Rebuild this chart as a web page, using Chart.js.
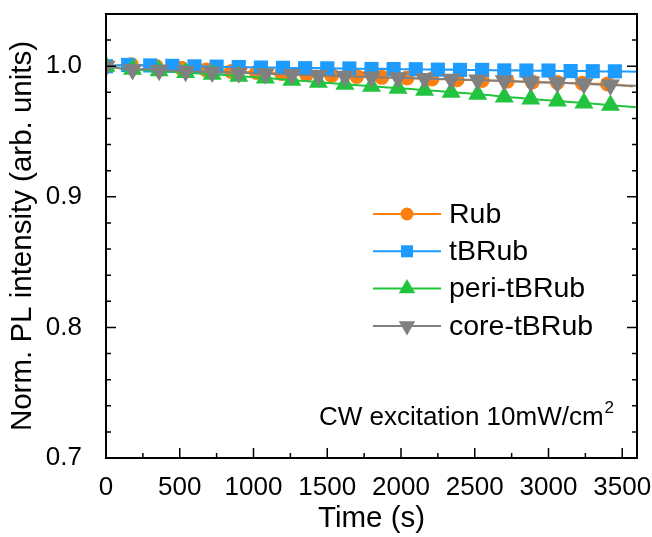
<!DOCTYPE html>
<html lang="en">
<head>
  <title>Norm. PL intensity vs time</title>
  <meta charset="UTF-8">
  <script src="https://cdn.jsdelivr.net/npm/chart.js@4.4.1/dist/chart.umd.min.js"></script>
  <style>
    * {
      margin: 0;
      padding: 0;
      box-sizing: border-box;
    }
    html, body {
      width: 652px;
      height: 537px;
      background-color: white;
      overflow: hidden;
    }
    .ChartBox {
      position: relative;
      width: 652px;
      height: 537px;
    }
  </style>
</head>
<body>
  <div class="ChartBox">
    <canvas id="PLChart"></canvas>
  </div>

  <script>
    // ---------------- data ----------------
    const seriesNames = ['Rub', 'tBRub', 'peri-tBRub', 'core-tBRub'];

    const timeRub = [0,85,170,255,340,425,510,595,680,765,850,935,1020,1105,1190,1275,1360,1445,1530,1615,1700,1785,1870,1955,2040,2125,2210,2295,2380,2465,2550,2635,2720,2805,2890,2975,3060,3145,3230,3315,3400,3485,3570];
    const valRub = [1.000,1.0008,1.0012,1.0005,0.9998,0.9990,0.9985,0.9978,0.9972,0.9968,
                    0.9960,0.9958,0.9952,0.9949,0.9945,0.9940,0.9938,0.9933,0.9930,0.9926,
                    0.9922,0.9920,0.9915,0.9912,0.9910,0.9906,0.9903,0.9900,0.9897,0.9895,
                    0.9891,0.9889,0.9886,0.9884,0.9880,0.9878,0.9875,0.9872,0.9870,0.9866,
                    0.9864,0.9856,0.9844];

    const timeTBRub = [0,75,150,225,300,375,450,525,600,675,750,825,900,975,1050,1125,1200,1275,1350,1425,1500,1575,1650,1725,1800,1875,1950,2025,2100,2175,2250,2325,2400,2475,2550,2625,2700,2775,2850,2925,3000,3075,3150,3225,3300,3375,3450,3525,3600];
    const valTBRub = [1.000,1.0005,1.0010,1.0008,1.0006,1.0004,1.0003,1.0001,0.9999,0.9998,
                      0.9997,0.9995,0.9994,0.9992,0.9990,0.9991,0.9988,0.9987,0.9985,0.9986,
                      0.9984,0.9982,0.9983,0.9981,0.9979,0.9980,0.9978,0.9976,0.9977,0.9975,
                      0.9974,0.9975,0.9972,0.9971,0.9972,0.9970,0.9968,0.9969,0.9967,0.9966,
                      0.9967,0.9964,0.9963,0.9964,0.9962,0.9960,0.9961,0.9959,0.9958];

    const timeCorePeri = [0,90,180,270,360,450,540,630,720,810,900,990,1080,1170,1260,1350,1440,1530,1620,1710,1800,1890,1980,2070,2160,2250,2340,2430,2520,2610,2700,2790,2880,2970,3060,3150,3240,3330,3420,3510,3600];
    const valPeri = [1.0000,0.9984,0.9977,0.9970,0.9965,0.9958,0.9952,0.9945,0.9938,0.9932,
                     0.9924,0.9917,0.9910,0.9902,0.9893,0.9886,0.9878,0.9870,0.9862,0.9855,
                     0.9846,0.9840,0.9832,0.9825,0.9816,0.9810,0.9801,0.9795,0.9786,0.9777,
                     0.9765,0.9758,0.9750,0.9742,0.9733,0.9726,0.9718,0.9710,0.9702,0.9693,
                     0.9685];
    const valCore = [1.000,0.9985,0.9975,0.9978,0.9970,0.9968,0.9962,0.9960,0.9955,0.9953,
                     0.9950,0.9946,0.9943,0.9940,0.9937,0.9933,0.9930,0.9927,0.9924,0.9920,
                     0.9918,0.9914,0.9912,0.9908,0.9906,0.9902,0.9900,0.9896,0.9894,0.9890,
                     0.9888,0.9884,0.9880,0.9876,0.9873,0.9869,0.9865,0.9861,0.9857,0.9853,
                     0.9850];

    const xMajorTicks = [0, 500, 1000, 1500, 2000, 2500, 3000, 3500];
    const xMinorTicks = [250, 750, 1250, 1750, 2250, 2750, 3250];
    const yMajorTicks = [0.7, 0.8, 0.9, 1.0];
    const yMinorTicks = [0.72, 0.74, 0.76, 0.78, 0.82, 0.84, 0.86, 0.88, 0.92, 0.94, 0.96, 0.98, 1.02];

    // ---------------- styles ----------------
    const FONT = "'Liberation Sans', Arial, sans-serif";
    const colRub = '#FF7F0E';
    const colTBRub = '#1E9BFF';
    const colPeri = '#22C43F';
    const colCore = '#808080';

    function toPoints(times, vals) {
      return times.map((t, i) => ({ x: t, y: vals[i] }));
    }

    // markers on every 2nd sample, not at the very end of the run
    function markerSizes(times, lastT, r) {
      return times.map((t, i) => (i % 2 === 0 && t <= lastT) ? r : 0);
    }

    /************************************************************************
                            Frame, inward ticks, legend, note
    *************************************************************************/
    const framePlugin = {
      id: 'frameTicks',
      afterDraw(chart) {
        const ctx = chart.ctx;
        const a = chart.chartArea;
        const xs = chart.scales.x;
        const ys = chart.scales.y;
        ctx.save();
        ctx.strokeStyle = '#000';

        ctx.lineWidth = 1.5;
        ctx.beginPath();
        xMajorTicks.forEach(v => {
          const px = xs.getPixelForValue(v);
          ctx.moveTo(px, a.bottom); ctx.lineTo(px, a.bottom - 10);
        });
        xMinorTicks.forEach(v => {
          const px = xs.getPixelForValue(v);
          ctx.moveTo(px, a.bottom); ctx.lineTo(px, a.bottom - 5);
        });
        yMajorTicks.forEach(v => {
          const py = ys.getPixelForValue(v);
          ctx.moveTo(a.left, py); ctx.lineTo(a.left + 10, py);
          ctx.moveTo(a.right, py); ctx.lineTo(a.right - 10, py);
        });
        yMinorTicks.forEach(v => {
          const py = ys.getPixelForValue(v);
          ctx.moveTo(a.left, py); ctx.lineTo(a.left + 5, py);
          ctx.moveTo(a.right, py); ctx.lineTo(a.right - 5, py);
        });
        ctx.stroke();

        ctx.lineWidth = 2;
        ctx.strokeRect(a.left, a.top, a.right - a.left, a.bottom - a.top);

        // legend: line + marker + label
        const styles = [
          { c: colRub, s: 'circle', r: 6.5, rot: 0 },
          { c: colTBRub, s: 'rect', r: 8.5, rot: 0 },
          { c: colPeri, s: 'triangle', r: 9.5, rot: 0 },
          { c: colCore, s: 'triangle', r: 9.5, rot: 180 }
        ];
        seriesNames.forEach((name, i) => {
          const y = 214 + i * 37.3;
          const st = styles[i];
          ctx.strokeStyle = st.c;
          ctx.lineWidth = 2;
          ctx.beginPath();
          ctx.moveTo(373, y); ctx.lineTo(441, y);
          ctx.stroke();
          ctx.fillStyle = st.c;
          Chart.helpers.drawPoint(ctx, { pointStyle: st.s, radius: st.r, rotation: st.rot, borderWidth: 0 }, 407, y);
          ctx.fillStyle = '#000';
          ctx.font = '28.5px ' + FONT;
          ctx.textAlign = 'left';
          ctx.textBaseline = 'middle';
          ctx.fillText(name, 449, y + 1);
        });

        // excitation note
        ctx.fillStyle = '#000';
        ctx.textBaseline = 'alphabetic';
        ctx.font = '26px ' + FONT;
        const note = 'CW excitation 10mW/cm';
        ctx.fillText(note, 319, 425);
        const w = ctx.measureText(note).width;
        ctx.font = '17px ' + FONT;
        ctx.fillText('2', 319 + w + 1, 413);
        ctx.restore();
      }
    };

    /************************************************************************
                            PL chart
    *************************************************************************/
    const chartLocation = document.getElementById('PLChart').getContext('2d');
    const PLChart = new Chart(chartLocation, {
      type: 'line',
      data: {
        datasets: [
          {
            label: 'Rub',
            data: toPoints(timeRub, valRub),
            borderColor: colRub,
            backgroundColor: colRub,
            borderWidth: 2,
            pointStyle: 'circle',
            pointRadius: markerSizes(timeRub, 3400, 7.5),
            pointBorderWidth: 0,
            order: 3
          },
          {
            label: 'tBRub',
            data: toPoints(timeTBRub, valTBRub),
            borderColor: colTBRub,
            backgroundColor: colTBRub,
            borderWidth: 2,
            pointStyle: 'rect',
            pointRadius: markerSizes(timeTBRub, 3450, 10),
            pointBorderWidth: 0,
            order: 2
          },
          {
            label: 'peri-tBRub',
            data: toPoints(timeCorePeri, valPeri),
            borderColor: colPeri,
            backgroundColor: colPeri,
            borderWidth: 2,
            pointStyle: 'triangle',
            pointRadius: markerSizes(timeCorePeri, 3420, 11),
            pointBorderWidth: 0,
            order: 1
          },
          {
            label: 'core-tBRub',
            data: toPoints(timeCorePeri, valCore),
            borderColor: colCore,
            backgroundColor: colCore,
            borderWidth: 2,
            pointStyle: 'triangle',
            pointRotation: 180,
            pointRadius: markerSizes(timeCorePeri, 3420, 11),
            pointBorderWidth: 0,
            order: 0
          }
        ]
      },
      options: {
        responsive: true,
        maintainAspectRatio: false,
        animation: false,
        events: [],
        layout: { padding: { top: 14, right: 15, left: 0, bottom: 0 } },
        plugins: {
          legend: { display: false },
          tooltip: { enabled: false }
        },
        scales: {
          x: {
            type: 'linear',
            min: 0,
            max: 3600,
            grid: { display: false },
            border: { display: false },
            afterBuildTicks: (s) => { s.ticks = xMajorTicks.map(v => ({ value: v })); },
            afterFit: (s) => { s.height = 79; s.paddingLeft = 0; s.paddingRight = 0; },
            ticks: {
              color: '#000',
              padding: 6,
              maxRotation: 0,
              font: { family: FONT, size: 26 },
              callback: (v) => String(v)
            },
            title: {
              display: true,
              text: 'Time (s)',
              color: '#000',
              font: { family: FONT, size: 29.5 },
              padding: { top: 0, bottom: 0 }
            }
          },
          y: {
            min: 0.7,
            max: 1.04,
            grid: { display: false },
            border: { display: false },
            afterBuildTicks: (s) => { s.ticks = yMajorTicks.map(v => ({ value: v })); },
            afterFit: (s) => { s.width = 106; s.paddingTop = 0; s.paddingBottom = 0; },
            ticks: {
              color: '#000',
              padding: 16,
              font: { family: FONT, size: 26 },
              callback: (v) => Number(v).toFixed(1)
            },
            title: {
              display: true,
              text: 'Norm. PL intensity (arb. units)',
              color: '#000',
              font: { family: FONT, size: 29.5 },
              padding: { top: 5, bottom: 0 }
            }
          }
        }
      },
      plugins: [framePlugin]
    });
  </script>
</body>
</html>
